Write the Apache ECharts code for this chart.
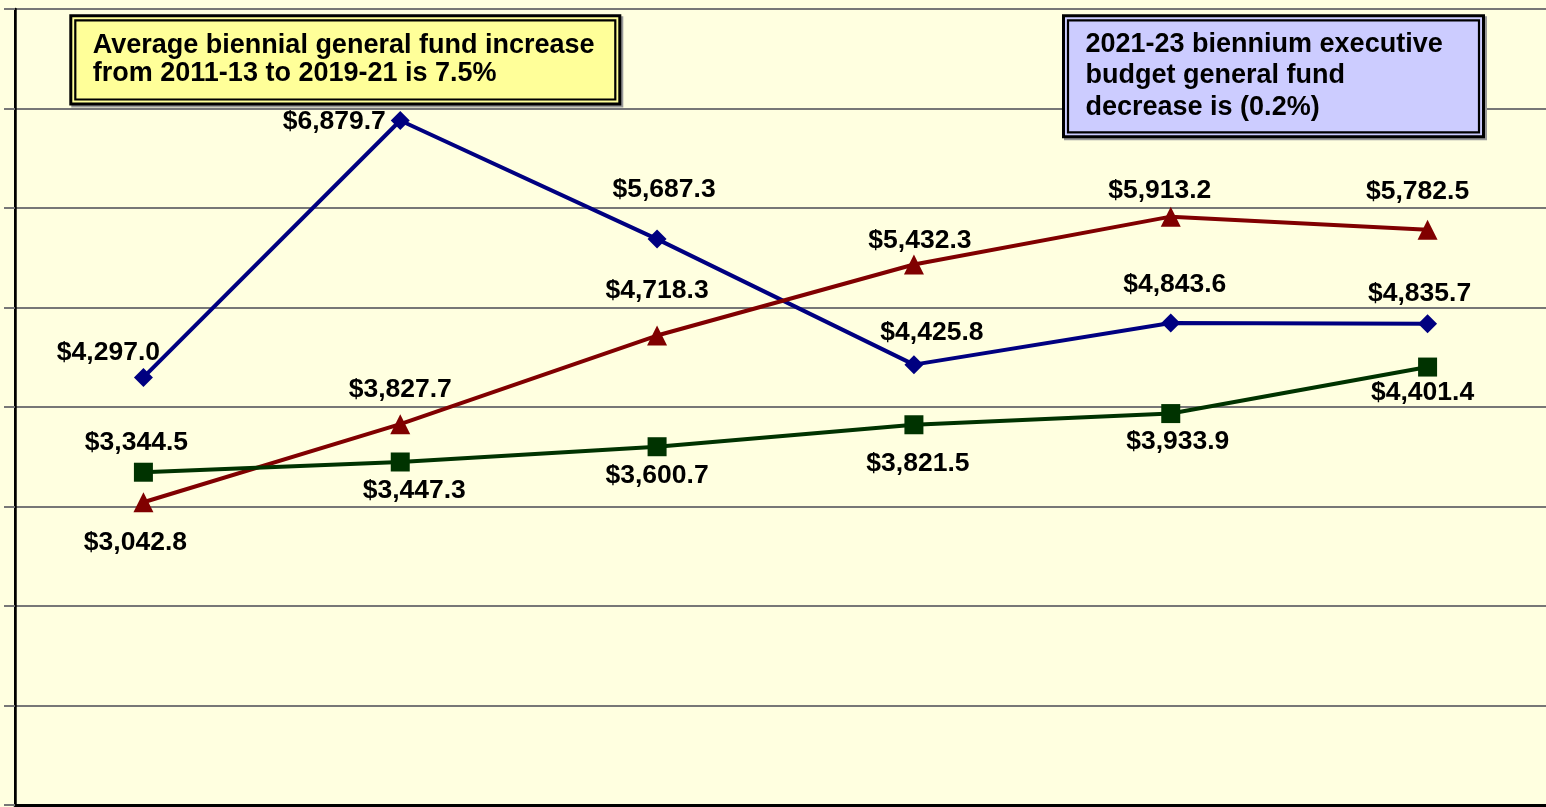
<!DOCTYPE html>
<html>
<head>
<meta charset="utf-8">
<script src="https://cdn.jsdelivr.net/npm/echarts@6/dist/echarts.min.js"></script>
<style>
  html, body { margin: 0; padding: 0; overflow: hidden; background: #FFFFE0; }
  #chart { width: 1560px; height: 807px; }
</style>
</head>
<body>
<div id="chart"></div>
<script>
// bienniums (axis labels are cropped off in the picture)
const categories = ['2011-13', '2013-15', '2015-17', '2017-19', '2019-21', '2021-23']
const generalFund = [4297.0, 6879.7, 5687.3, 4425.8, 4843.6, 4835.7]
const federalFunds = [3042.8, 3827.7, 4718.3, 5432.3, 5913.2, 5782.5]
const specialFunds = [3344.5, 3447.3, 3600.7, 3821.5, 3933.9, 4401.4]
const yTicks = [0, 1000, 2000, 3000, 4000, 5000, 6000, 7000, 8000]

const noteLeft = ['Average biennial general fund increase', 'from 2011-13 to 2019-21 is 7.5%']
const noteRight = ['2021-23 biennium executive', 'budget general fund', 'decrease is (0.2%)']

// where each value label sits relative to its marker
const blueOffsets = [[-35, -25], [-66, 1], [7, -49], [18, -32], [4, -38], [-8, -30]]
const redOffsets = [[-8, 40], [0, -34], [0, -45], [6, -24], [-11, -26], [-10, -38]]
const greenOffsets = [[-7, -30], [14, 29], [0, 29], [4, 39], [7, 28], [-5, 26]]

const FONT = '"Liberation Sans", Arial, sans-serif'

function money(v) {
  return '$' + v.toLocaleString('en-US', { minimumFractionDigits: 1, maximumFractionDigits: 1 })
}

function makeSeries(name, values, offsets, color, symbol, size) {
  return {
    name: name,
    type: 'line',
    symbol: symbol,
    symbolSize: size,
    lineStyle: { color: color, width: 4 },
    itemStyle: { color: color },
    label: {
      show: true,
      position: 'inside',
      formatter: p => money(p.value),
      color: '#000',
      fontFamily: FONT,
      fontWeight: 'bold',
      fontSize: 26.5
    },
    data: values.map((v, i) => ({ value: v, label: { offset: offsets[i] } }))
  }
}

function noteBox(x, y, w, h, fill, lines, textY, lineHeight) {
  return [
    { type: 'rect', z: 100, shape: { x: x + 2, y: y + 2, width: w, height: h },
      style: { fill: 'none', stroke: '#999', lineWidth: 3 } },
    { type: 'rect', z: 101, shape: { x: x, y: y, width: w, height: h },
      style: { fill: fill, stroke: '#000', lineWidth: 3 } },
    { type: 'rect', z: 102, shape: { x: x + 4.5, y: y + 4.5, width: w - 9, height: h - 9 },
      style: { fill: 'none', stroke: '#000', lineWidth: 2.2 } },
    { type: 'text', z: 103, x: x + 22, y: textY,
      style: {
        text: lines.join('\n'),
        font: 'bold 27px ' + FONT,
        fill: '#000',
        lineHeight: lineHeight,
        verticalAlign: 'top'
      } }
  ]
}

let myChart = echarts.init(document.getElementById('chart'))
let option = {
  backgroundColor: '#FFFFE0',
  animation: false,
  grid: {
    left: 15,
    right: 4,
    top: 9,
    bottom: 2,
    show: true,
    borderColor: '#000',
    borderWidth: 2,
    backgroundColor: 'transparent'
  },
  xAxis: {
    type: 'category',
    data: categories,
    boundaryGap: true,
    axisLine: { lineStyle: { color: '#000', width: 3 } },
    axisTick: { show: false },
    axisLabel: { show: false }
  },
  yAxis: {
    type: 'value',
    min: yTicks[0],
    max: yTicks[yTicks.length - 1],
    interval: yTicks[1] - yTicks[0],
    axisLine: { show: true, lineStyle: { color: '#000', width: 2.5 } },
    axisTick: { show: true, length: 11, lineStyle: { color: '#777', width: 2 } },
    axisLabel: { show: false },
    splitLine: { lineStyle: { color: '#777', width: 2 } }
  },
  graphic: [].concat(
    noteBox(70.8, 15.8, 549, 88.2, '#FFFF99', noteLeft, 32, 28),
    noteBox(1063.5, 15.8, 420, 121, '#CCCCFF', noteRight, 28.5, 31.5)
  ),
  series: [
    makeSeries('General fund', generalFund, blueOffsets, '#000080', 'diamond', 19),
    makeSeries('Federal funds', federalFunds, redOffsets, '#800000', 'triangle', 20),
    makeSeries('Special funds', specialFunds, greenOffsets, '#003300', 'rect', 19)
  ]
}
myChart.setOption(option)
</script>
</body>
</html>
